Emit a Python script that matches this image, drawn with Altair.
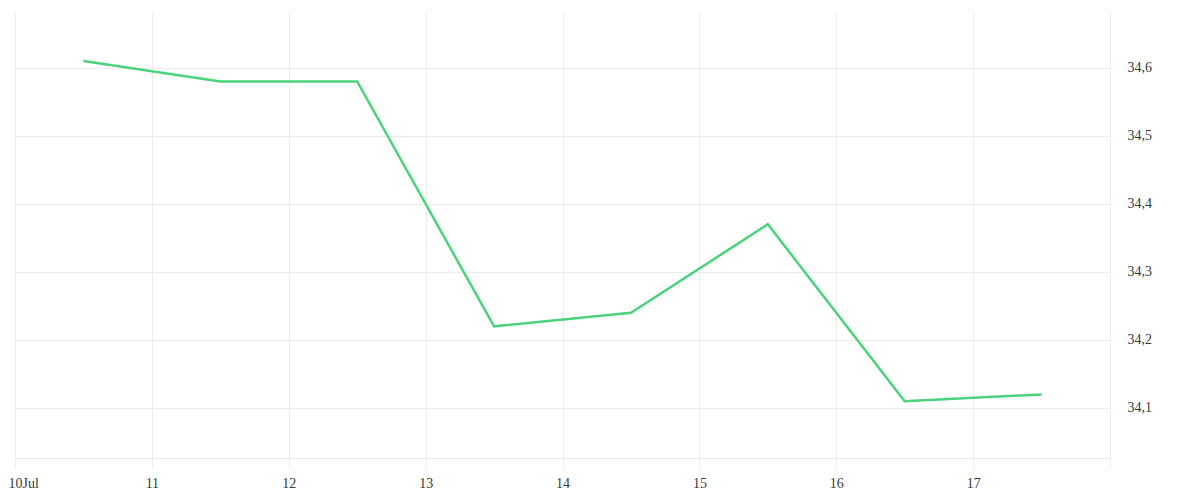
import altair as alt
import pandas as pd

dates = ["2024-07-10T12:00", "2024-07-11T12:00", "2024-07-12T12:00", "2024-07-13T12:00",
         "2024-07-14T12:00", "2024-07-15T12:00", "2024-07-16T12:00", "2024-07-17T12:00"]
values = [34.61, 34.58, 34.58, 34.22, 34.24, 34.37, 34.11, 34.12]

x_ticks = ["2024-07-10", "2024-07-11", "2024-07-12", "2024-07-13", "2024-07-14",
           "2024-07-15", "2024-07-16", "2024-07-17", "2024-07-18"]
y_ticks = [34.1, 34.2, 34.3, 34.4, 34.5, 34.6]

df = pd.DataFrame({"date": pd.to_datetime(dates), "value": values})

grid = "#ebebeb"
font = "Liberation Serif"

x_tick_vals = [alt.DateTime(year=int(d[:4]), month=int(d[5:7]), date=int(d[8:10])) for d in x_ticks]

chart = alt.Chart(df).mark_line(color="#4bd37b", strokeWidth=2.5).encode(
    x=alt.X("date:T",
            scale=alt.Scale(domain=[alt.DateTime(year=2024, month=7, date=10),
                                    alt.DateTime(year=2024, month=7, date=18)]),
            axis=alt.Axis(values=x_tick_vals, title=None, grid=True, gridColor=grid,
                          domainColor=grid, tickColor=grid, tickSize=10,
                          labelExpr="date(datum.value) == 10 ? '10Jul' : (date(datum.value) == 18 ? '' : '' + date(datum.value))",
                          labelFont=font, labelFontSize=14, labelColor="#3a3a3a",
                          labelPadding=8, labelFlush=False, labelOverlap=False,
                          labelAlign={"condition": {"test": "datum.index == 0", "value": "left"}, "value": "center"},
                          labelOffset={"condition": {"test": "datum.index == 0", "value": -7}, "value": 0})),
    y=alt.Y("value:Q",
            scale=alt.Scale(domain=[34.0265, 34.682], zero=False, nice=False),
            axis=alt.Axis(orient="right", values=y_ticks, title=None, grid=True, gridColor=grid,
                          domain=False, ticks=False, labelPadding=17,
                          labelExpr="replace(format(datum.value, '.1f'), '.', ',')",
                          labelFont=font, labelFontSize=14, labelColor="#3a3a3a",
                          labelAlign="left")),
).properties(
    width=1095, height=446,
    autosize=alt.AutoSizeParams(type="none"),
    padding={"left": 7, "top": 4, "right": 80, "bottom": 34},
).configure_view(stroke=None)

chart.save("out.html", embed_options={"renderer": "svg", "actions": False})
